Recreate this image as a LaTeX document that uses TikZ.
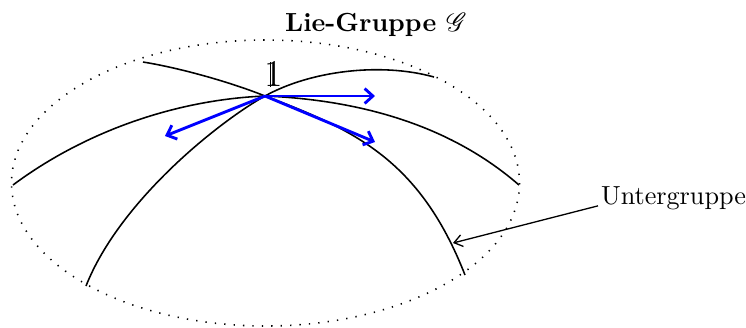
\documentclass[tikz,border=0pt]{standalone}
\usepackage{amssymb}
\usepackage{mathrsfs}
\usetikzlibrary{arrows.meta,positioning,calc}
\definecolor{LGBlue}{HTML}{0000FF}
\newcommand{\unitone}{\rlap{1}\kern0.14em\rlap{\vrule height 0.66em depth 0pt width 0.05em}\kern0.06em}
\tikzset{
  curve/.style={black,line width=0.6pt},
  tangent/.style={-{Straight Barb[length=1.1mm,width=2.0mm]},LGBlue,line width=1.1pt},
  pointer/.style={-{Straight Barb[length=1.1mm,width=1.6mm]},black,line width=0.5pt},
  border/.style={black,line width=0.6pt,dash pattern=on 0.5pt off 3.1pt},
  title/.style={font=\bfseries,inner sep=1pt},
  plain/.style={inner sep=1pt},
}
\begin{document}
\begin{tikzpicture}[x=0.1343mm,y=-0.1343mm]
    \useasboundingbox (0,0) rectangle (746,327);
    % the group, drawn as a dotted ellipse
    \draw[border] (265.5,183) ellipse [x radius=254,y radius=143];
    \node[title] (lie) at (376,25) {Lie-Gruppe $\mathscr{G}$};

    % neutral element
    \coordinate (e) at (265,96);
    \node[plain,font=\Large] (one) at (268,74) {\unitone};

    % one-parameter subgroups through the neutral element
    \draw[curve] (143,62) .. controls (180,68) and (230,82) .. (e)
      .. controls (355,130) and (420,160) .. (465,275);
    \draw[curve] (434,77) .. controls (380,62) and (310,71) .. (e)
      .. controls (220,121) and (120,200) .. (86,286);
    \draw[curve] (13,185) .. controls (80,135) and (170,100) .. (e)
      .. controls (360,100) and (450,125) .. (519,185);

    % tangent vectors
    \coordinate (t1) at (375,96);
    \coordinate (t2) at (375,142);
    \coordinate (t3) at (165,136);
    \draw[tangent] (e) -- (t1);
    \draw[tangent] (e) -- (t2);
    \draw[tangent] (e) -- (t3);

    \node[plain,anchor=west] (sub) at (598,198) {Untergruppe};
    \coordinate (hit) at (453,243);
    \draw[pointer] ([yshift=-3pt]sub.west) -- (hit);
\end{tikzpicture}
\end{document}
